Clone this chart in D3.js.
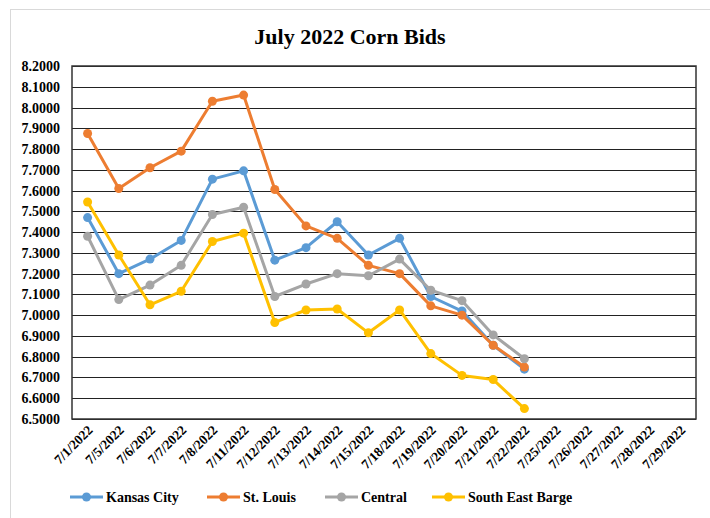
<!DOCTYPE html>
<html>
<head>
<meta charset="utf-8">
<script src="https://cdnjs.cloudflare.com/ajax/libs/d3/7.8.5/d3.min.js"></script>
<style>
  body { margin: 0; background: #fff; }
  text { font-family: "Liberation Serif", "Times New Roman", serif; font-weight: bold; fill: #000; }
</style>
</head>
<body>
<svg width="710" height="518"></svg>
<script>
var dates = ["7/1/2022","7/5/2022","7/6/2022","7/7/2022","7/8/2022","7/11/2022","7/12/2022",
  "7/13/2022","7/14/2022","7/15/2022","7/18/2022","7/19/2022","7/20/2022","7/21/2022",
  "7/22/2022","7/25/2022","7/26/2022","7/27/2022","7/28/2022","7/29/2022"];

var seriesNames = ["Kansas City", "St. Louis", "Central", "South East Barge"];
var seriesColors = ["#5B9BD5", "#ED7D31", "#A5A5A5", "#FFC000"];

var kansasCity = [7.47, 7.20, 7.27, 7.36, 7.655, 7.695, 7.265, 7.325, 7.45, 7.29, 7.37, 7.09, 7.02, 6.855, 6.74];
var stLouis = [7.875, 7.61, 7.71, 7.79, 8.03, 8.06, 7.605, 7.43, 7.37, 7.24, 7.20, 7.045, 7.00, 6.855, 6.75];
var central = [7.38, 7.075, 7.145, 7.24, 7.485, 7.52, 7.09, 7.15, 7.20, 7.19, 7.27, 7.12, 7.07, 6.905, 6.79];
var seBarge = [7.545, 7.29, 7.05, 7.115, 7.355, 7.395, 6.965, 7.025, 7.03, 6.915, 7.025, 6.815, 6.71, 6.69, 6.55];

var yTicks = d3.range(6.5, 8.2001, 0.1);

var svg = d3.select("svg");
var margin = {top: 66, left: 72, right: 14, bottom: 99};
var width = 710 - margin.left - margin.right,
    height = 518 - margin.top - margin.bottom;

// outer chart frame
svg.append("rect")
  .attr("x", 10.5).attr("y", 9.5)
  .attr("width", 720).attr("height", 540)
  .attr("fill", "none").attr("stroke", "#d9d9d9");

svg.append("text")
  .attr("x", 350).attr("y", 44)
  .attr("text-anchor", "middle")
  .style("font-size", "22px")
  .text("July 2022 Corn Bids");

var g = svg.append("g").attr("transform", "translate(" + margin.left + "," + margin.top + ")");

var x = d3.scaleBand().domain(dates).range([0, width]);
var y = d3.scaleLinear().domain([6.5, 8.2]).range([height, 0]);

// gridlines
g.append("g")
  .selectAll("line")
  .data(yTicks)
  .enter().append("line")
  .attr("x1", 0).attr("x2", width)
  .attr("y1", function(d) { return Math.round(y(d)) + 0.5; })
  .attr("y2", function(d) { return Math.round(y(d)) + 0.5; })
  .attr("stroke", "#222")
  .attr("stroke-width", 1.2);

g.append("rect")
  .attr("x", 0).attr("y", 0)
  .attr("width", width).attr("height", height)
  .attr("fill", "none")
  .attr("stroke", "#333")
  .attr("stroke-width", 1.5);

// y axis labels
var yAxis = g.append("g")
  .call(d3.axisLeft(y).tickValues(yTicks).tickFormat(d3.format(".4f")).tickSize(0).tickPadding(12));
yAxis.select(".domain").remove();
yAxis.selectAll("text")
  .style("font-size", "14px")
  .style("font-family", "Liberation Serif, serif")
  .style("font-weight", "bold");

// x axis labels
var xAxis = g.append("g")
  .attr("transform", "translate(0," + height + ")")
  .call(d3.axisBottom(x).tickSize(0).tickPadding(0));
xAxis.select(".domain").remove();
xAxis.selectAll("text")
  .attr("text-anchor", "end")
  .attr("dy", null)
  .attr("transform", "translate(6,12) rotate(-45)")
  .style("font-size", "13.5px")
  .style("font-family", "Liberation Serif, serif")
  .style("font-weight", "bold");

var allSeries = [kansasCity, stLouis, central, seBarge];

var line = d3.line()
  .x(function(d, i) { return x(dates[i]) + x.bandwidth() / 2; })
  .y(function(d) { return y(d); });

allSeries.forEach(function(vals, k) {
  var sg = g.append("g");
  sg.append("path")
    .datum(vals)
    .attr("d", line)
    .attr("fill", "none")
    .attr("stroke", seriesColors[k])
    .attr("stroke-width", 3)
    .attr("stroke-linejoin", "round");
  sg.selectAll("circle")
    .data(vals)
    .enter().append("circle")
    .attr("cx", function(d, i) { return x(dates[i]) + x.bandwidth() / 2; })
    .attr("cy", function(d) { return y(d); })
    .attr("r", 4.5)
    .attr("fill", seriesColors[k]);
});

// legend
var legendX = [70, 207, 325, 432];
var legend = svg.append("g").attr("transform", "translate(0,497)");
seriesNames.forEach(function(name, k) {
  var lg = legend.append("g").attr("transform", "translate(" + legendX[k] + ",0)");
  lg.append("line").attr("x1", 0).attr("x2", 33).attr("y1", 0).attr("y2", 0)
    .attr("stroke", seriesColors[k]).attr("stroke-width", 3);
  lg.append("circle").attr("cx", 16.5).attr("cy", 0).attr("r", 4.5).attr("fill", seriesColors[k]);
  lg.append("text").attr("x", 36).attr("y", 5)
    .style("font-size", "14px")
    .text(name);
});
</script>
</body>
</html>
